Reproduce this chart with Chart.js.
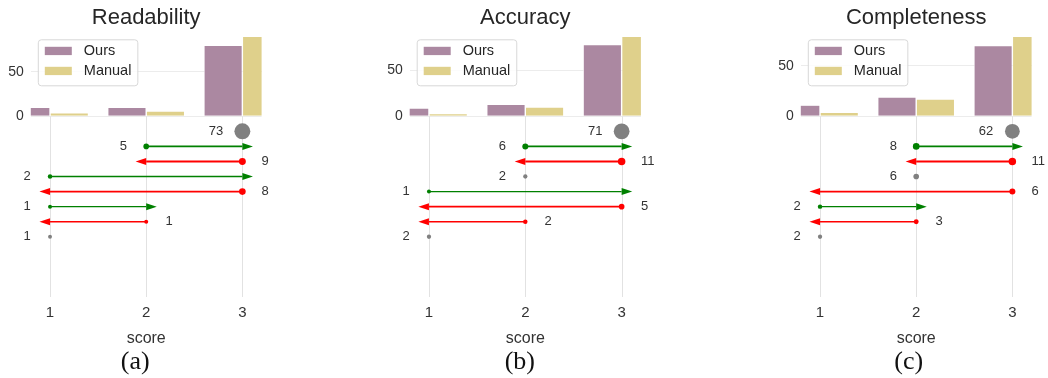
<!DOCTYPE html>
<html>
<head>
<meta charset="utf-8">
<script src="https://cdn.jsdelivr.net/npm/chart.js@4.4.1/dist/chart.umd.min.js"></script>
<style>
  html, body { margin: 0; padding: 0; background: #ffffff; }
  #wrap { position: relative; width: 1048px; height: 378px; overflow: hidden; }
  .panel { position: absolute; top: 0; height: 378px; }
</style>
</head>
<body>
<div id="wrap">
  <div class="panel" style="left:0px;width:350px"><canvas id="c0" width="350" height="378"></canvas></div>
  <div class="panel" style="left:350px;width:350px"><canvas id="c1" width="350" height="378"></canvas></div>
  <div class="panel" style="left:700px;width:348px"><canvas id="c2" width="348" height="378"></canvas></div>
</div>
<script>
// ---- data ----
const scores = [1, 2, 3];
const seriesNames = ['Ours', 'Manual'];
const titles = ['Readability', 'Accuracy', 'Completeness'];
const captions = ['(a)', '(b)', '(c)'];
const barTicks = [0, 50];

const oursReadability = [10, 10, 80];
const manualReadability = [4, 6, 90];
const oursAccuracy = [9, 13, 78];
const manualAccuracy = [3, 10, 87];
const oursCompleteness = [11, 19, 70];
const manualCompleteness = [4, 17, 79];

// score changes, one row each, top to bottom: [manual score, our score, count]
const movesReadability = [[3, 3, 73], [2, 3, 5], [3, 2, 9], [1, 3, 2], [3, 1, 8], [1, 2, 1], [2, 1, 1], [1, 1, 1]];
const movesAccuracy = [[3, 3, 71], [2, 3, 6], [3, 2, 11], [2, 2, 2], [1, 3, 1], [3, 1, 5], [2, 1, 2], [1, 1, 2]];
const movesCompleteness = [[3, 3, 62], [2, 3, 8], [3, 2, 11], [2, 2, 6], [3, 1, 6], [1, 2, 2], [2, 1, 3], [1, 1, 2]];

const oursByPanel = [oursReadability, oursAccuracy, oursCompleteness];
const manualByPanel = [manualReadability, manualAccuracy, manualCompleteness];
const movesByPanel = [movesReadability, movesAccuracy, movesCompleteness];

// ---- style ----
const FONT = '"Liberation Sans", Arial, Helvetica, sans-serif';
const SERIF = '"Liberation Serif", "Times New Roman", serif';
const OURS_COLOR = '#ab88a1';
const MANUAL_COLOR = '#dfd08b';
const UP_COLOR = '#008000';
const DOWN_COLOR = '#ff0000';
const SAME_COLOR = '#808080';
const TEXT = '#333333';
const AXIS_W = 30;
const X_MIN = 0.8, X_MAX = 3.2;
const HEAD_LEN = 0.11;      // arrow head length in score units
const HEAD_HALF = 3.5;      // arrow head half width in px
const LABEL_GAP = 0.2;      // count label distance from start, score units

// panel frames: left/right padding so the plot areas sit side by side
const frames = [
  { padLeft: 0.8, padRight: 88.4, captionShift: -11 },
  { padLeft: 29.7, padRight: 59.1, captionShift: -5.5 },
  { padLeft: 70.8, padRight: 16.4, captionShift: -7.5 }
];

const lineWidthFor = n => 1.3 + 0.07 * n;
const startRadiusFor = n => Math.sqrt(3 + n);
const sameRadiusFor = n => Math.sqrt(3 + 0.83 * n);

// vertical score lines only in the change area
const lowerGrid = {
  id: 'lowerGrid',
  beforeDatasetsDraw(chart) {
    const { ctx } = chart;
    const xs = chart.scales.x, ya = chart.scales.yArr;
    ctx.save();
    ctx.strokeStyle = '#e2e2e2';
    ctx.lineWidth = 1;
    scores.forEach(s => {
      const px = Math.round(xs.getPixelForValue(s)) + 0.5;
      ctx.beginPath();
      ctx.moveTo(px, ya.top);
      ctx.lineTo(px, ya.bottom);
      ctx.stroke();
    });
    ctx.restore();
  }
};

// arrow heads at the end of each change line
const arrowHeads = {
  id: 'arrowHeads',
  afterDatasetsDraw(chart) {
    const { ctx } = chart;
    const xs = chart.scales.x;
    ctx.save();
    chart.data.datasets.forEach((ds, i) => {
      if (ds.kind !== 'up' && ds.kind !== 'down') return;
      const meta = chart.getDatasetMeta(i);
      const end = meta.data[1];
      const to = ds.data[1].x;
      const dir = ds.kind === 'up' ? 1 : -1;
      const tip = xs.getPixelForValue(to + dir * HEAD_LEN);
      ctx.fillStyle = ds.borderColor;
      ctx.beginPath();
      ctx.moveTo(end.x, end.y - HEAD_HALF);
      ctx.lineTo(tip, end.y);
      ctx.lineTo(end.x, end.y + HEAD_HALF);
      ctx.closePath();
      ctx.fill();
    });
    ctx.restore();
  }
};

// count next to each start point
const countLabels = {
  id: 'countLabels',
  afterDatasetsDraw(chart) {
    const { ctx } = chart;
    const xs = chart.scales.x;
    ctx.save();
    ctx.font = '13px ' + FONT;
    ctx.fillStyle = TEXT;
    ctx.textBaseline = 'middle';
    chart.data.datasets.forEach((ds, i) => {
      if (!ds.kind) return;
      const start = chart.getDatasetMeta(i).data[0];
      const from = ds.data[0].x;
      if (ds.kind === 'down') {
        ctx.textAlign = 'left';
        ctx.fillText(String(ds.count), xs.getPixelForValue(from + LABEL_GAP), start.y);
      } else {
        ctx.textAlign = 'right';
        ctx.fillText(String(ds.count), xs.getPixelForValue(from - LABEL_GAP), start.y);
      }
    });
    ctx.restore();
  }
};

// boxed legend in the upper left of the bar area
const boxLegend = {
  id: 'boxLegend',
  afterDraw(chart) {
    const { ctx } = chart;
    const bars = chart.data.datasets.filter(d => d.type === 'bar');
    const left = chart.chartArea.left + 7;
    const top = chart.scales.yBar.top + 2.9;
    ctx.save();
    ctx.font = '14.5px ' + FONT;
    const textW = Math.max(...bars.map(d => ctx.measureText(d.label).width));
    const w = 46 + textW + 6, h = 46;
    ctx.beginPath();
    ctx.roundRect(left + 0.5, top + 0.5, w, h, 3);
    ctx.fillStyle = 'rgba(255,255,255,0.85)';
    ctx.fill();
    ctx.strokeStyle = '#d8d8d8';
    ctx.lineWidth = 1;
    ctx.stroke();
    ctx.textBaseline = 'middle';
    ctx.textAlign = 'left';
    bars.forEach((d, k) => {
      ctx.fillStyle = d.backgroundColor;
      ctx.fillRect(left + 7, top + 7.5 + 20 * k, 27, 8.3);
      ctx.fillStyle = '#262626';
      ctx.fillText(d.label, left + 46, top + 11.7 + 20 * k);
    });
    ctx.restore();
  }
};

// sub-figure caption under the axis title
const caption = {
  id: 'caption',
  afterDraw(chart, args, opts) {
    const { ctx } = chart;
    const a = chart.chartArea;
    ctx.save();
    ctx.font = '26px ' + SERIF;
    ctx.fillStyle = '#111111';
    ctx.textAlign = 'center';
    ctx.textBaseline = 'middle';
    ctx.fillText(opts.text, (a.left + a.right) / 2 + opts.shift, 362);
    ctx.restore();
  }
};

function buildPanel(p) {
  const ours = oursByPanel[p];
  const manual = manualByPanel[p];
  const moves = movesByPanel[p];
  const frame = frames[p];
  const barMax = Math.max(...ours, ...manual);

  const datasets = [
    {
      type: 'bar', label: seriesNames[0], yAxisID: 'yBar',
      data: scores.map((s, k) => ({ x: s, y: ours[k] })),
      backgroundColor: OURS_COLOR, borderColor: '#ffffff', borderWidth: 0.7,
      categoryPercentage: 0.8, barPercentage: 1
    },
    {
      type: 'bar', label: seriesNames[1], yAxisID: 'yBar',
      data: scores.map((s, k) => ({ x: s, y: manual[k] })),
      backgroundColor: MANUAL_COLOR, borderColor: '#ffffff', borderWidth: 0.7,
      categoryPercentage: 0.8, barPercentage: 1
    }
  ];

  moves.forEach(([from, to, n], row) => {
    if (from === to) {
      datasets.push({
        type: 'line', yAxisID: 'yArr', kind: 'same', count: n,
        data: [{ x: from, y: row }], showLine: false,
        pointRadius: sameRadiusFor(n), pointBackgroundColor: SAME_COLOR, pointBorderWidth: 0
      });
    } else {
      const up = to > from;
      const color = up ? UP_COLOR : DOWN_COLOR;
      datasets.push({
        type: 'line', yAxisID: 'yArr', kind: up ? 'up' : 'down', count: n,
        data: [{ x: from, y: row }, { x: to, y: row }],
        borderColor: color, borderWidth: lineWidthFor(n), tension: 0, fill: false,
        pointRadius: c => (c.dataIndex === 0 ? startRadiusFor(n) : 0),
        pointBackgroundColor: color, pointBorderWidth: 0
      });
    }
  });

  new Chart(document.getElementById('c' + p), {
    type: 'bar',
    data: { datasets },
    plugins: [lowerGrid, arrowHeads, countLabels, boxLegend, caption],
    options: {
      responsive: false,
      animation: false,
      events: [],
      layout: { padding: { left: frame.padLeft, right: frame.padRight, top: 0, bottom: 29.8 } },
      plugins: {
        legend: { display: false },
        tooltip: { enabled: false },
        title: {
          display: true, text: titles[p], fullSize: false, color: '#262626',
          font: { family: FONT, size: 22, weight: 'normal', lineHeight: 1.2 },
          padding: { top: 4.8, bottom: 5.2 }
        },
        caption: { text: captions[p], shift: frame.captionShift }
      },
      scales: {
        x: {
          type: 'linear', min: X_MIN, max: X_MAX, offset: false,
          afterBuildTicks: s => { s.ticks = scores.map(v => ({ value: v })); },
          ticks: { font: { family: FONT, size: 15 }, color: TEXT, padding: 7 },
          grid: { display: false, drawTicks: false, offset: false },
          border: { display: false },
          title: {
            display: true, text: 'score', color: TEXT,
            font: { family: FONT, size: 16 }, padding: { top: 0, bottom: 0 }
          }
        },
        // the lower (change) axis is listed first so the bar axis stacks above it
        yArr: {
          type: 'linear', position: 'left', stack: 'score', stackWeight: 181,
          min: -1, max: 11, reverse: true, display: false
        },
        yBar: {
          type: 'linear', position: 'left', stack: 'score', stackWeight: 80,
          min: 0, max: barMax,
          afterBuildTicks: s => { s.ticks = barTicks.map(v => ({ value: v })); },
          afterFit: s => { s.width = AXIS_W; },
          ticks: { font: { family: FONT, size: 14 }, color: TEXT, padding: 7 },
          grid: { color: '#ececec', drawTicks: false },
          border: { display: false }
        }
      }
    }
  });
}

[0, 1, 2].forEach(buildPanel);
</script>
</body>
</html>
